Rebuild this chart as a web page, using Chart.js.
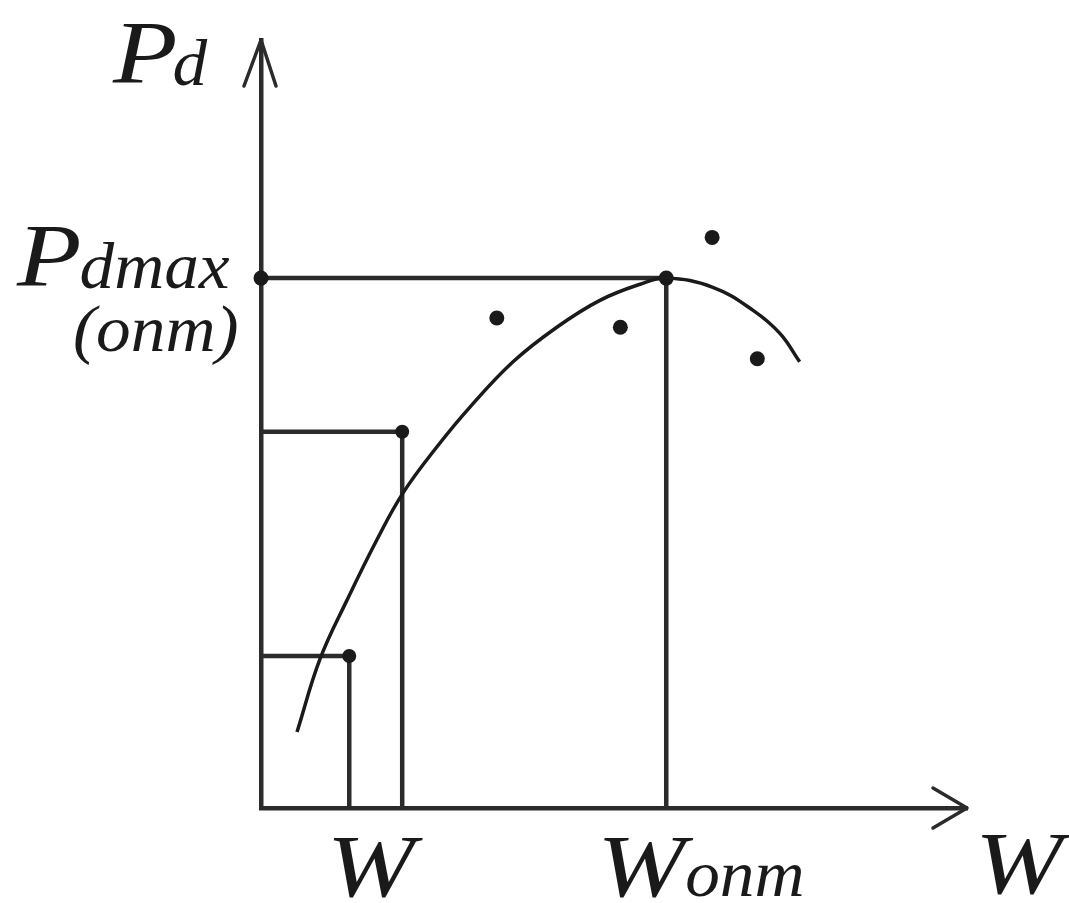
<!DOCTYPE html>
<html>
<head>
<meta charset="utf-8">
<script src="https://cdn.jsdelivr.net/npm/chart.js@4"></script>
<style>
  body { margin: 0; background: #fff; }
  canvas { display: block; }
</style>
</head>
<body>
<canvas id="chart" width="1069" height="903"></canvas>
<script>
// fitted curve Pd(W)
const curveW  = [5.1, 8.4, 12.2, 16.4, 20.1, 24.9, 29.6, 35.7, 41.9, 48.0, 53.7, 57.4, 64.0, 69.7, 73.5, 76.3];
const curvePd = [9.9, 19.5, 27.1, 34.9, 41.0, 47.0, 52.2, 58.1, 62.6, 66.1, 68.2, 69.0, 67.8, 64.8, 61.8, 58.1];

// measured points around the curve
const sampleW  = [33.4, 50.9, 63.9, 70.3];
const samplePd = [63.8, 62.6, 74.3, 58.5];

// two readings projected onto the axes
const readW  = [12.5, 20.0];
const readPd = [19.8, 49.0];

// optimum
const wOpt  = 57.4;
const pdMax = 69.0;

// axis texts
const yName     = ['P', 'd'];
const xName     = 'W';
const maxLabel  = ['P', 'dmax', '(onm)'];
const optLabel  = ['W', 'onm'];
const readLabel = 'W';

const INK = '#1a1a1a';
const LINE = '#2b2b2b';
const SERIF = '"Liberation Serif", "DejaVu Serif", serif';
const MAIN = {size: 88, stretch: 1.2};
const SUB = {size: 66, stretch: 1.05};

const toPts = (xs, ys) => xs.map((x, i) => ({x, y: ys[i]}));

function guide(w, pd, radii) {
    return {
        data: [{x: 0, y: pd}, {x: w, y: pd}, {x: w, y: 0}],
        showLine: true,
        borderColor: LINE,
        borderWidth: 4.5,
        pointRadius: radii,
        pointBackgroundColor: INK,
        pointBorderWidth: 0,
        clip: false,
    };
}

const datasets = [
    {
        data: toPts(curveW, curvePd),
        showLine: true,
        tension: 0.4,
        borderColor: INK,
        borderWidth: 3.5,
        pointRadius: 0,
        clip: false,
    },
    {
        data: toPts(sampleW, samplePd),
        pointRadius: 7.5,
        pointBackgroundColor: INK,
        pointBorderWidth: 0,
        clip: false,
    },
    guide(wOpt, pdMax, [7.5, 7.5, 0]),
    ...readW.map((w, i) => guide(w, readPd[i], [0, 7, 0])),
];

// italic text, widened a little; returns the drawn width
function fillWide(ctx, text, x, y, f) {
    ctx.font = `italic ${f.size}px ${SERIF}`;
    ctx.save();
    ctx.translate(x, y);
    ctx.scale(f.stretch, 1);
    ctx.fillText(text, 0, 0);
    ctx.restore();
    return ctx.measureText(text).width * f.stretch;
}

// main letter followed by a smaller subscript on nearly the same baseline
function drawSub(ctx, main, sub, x, y, gap, drop) {
    const w = fillWide(ctx, main, x, y, MAIN);
    if (sub) fillWide(ctx, sub, x + w + gap, y + drop, SUB);
}

const arrows = {
    id: 'arrows',
    afterDraw(chart) {
        const {ctx, chartArea: a} = chart;
        ctx.save();
        ctx.strokeStyle = LINE;
        ctx.lineWidth = 3.5;
        ctx.lineCap = 'round';
        ctx.lineJoin = 'round';
        ctx.beginPath();
        ctx.moveTo(a.left - 17, a.top + 46);
        ctx.lineTo(a.left, a.top);
        ctx.lineTo(a.left + 15, a.top + 46);
        ctx.moveTo(a.right - 34, a.bottom - 20);
        ctx.lineTo(a.right, a.bottom);
        ctx.lineTo(a.right - 34, a.bottom + 20);
        ctx.stroke();
        ctx.restore();
    }
};

const labels = {
    id: 'labels',
    afterDraw(chart) {
        const {ctx, chartArea: a, scales: {x, y}} = chart;
        ctx.save();
        ctx.fillStyle = INK;
        ctx.textAlign = 'left';
        ctx.textBaseline = 'alphabetic';

        // y axis name
        drawSub(ctx, yName[0], yName[1], a.left - 148, a.top + 42, -5, 3);

        // Pd max level
        const yMax = y.getPixelForValue(pdMax);
        drawSub(ctx, maxLabel[0], maxLabel[1], a.left - 244, yMax + 7, -2, 3);
        fillWide(ctx, maxLabel[2], a.left - 188, yMax + 73, SUB);

        // readings on the W axis
        const xRead = x.getPixelForValue((readW[0] + readW[1]) / 2);
        drawSub(ctx, readLabel, '', xRead - 49, a.bottom + 88, 0, 0);

        // optimum on the W axis
        drawSub(ctx, optLabel[0], optLabel[1], x.getPixelForValue(wOpt) - 69, a.bottom + 88, 0, 0);

        // x axis name
        drawSub(ctx, xName, '', a.right + 8, a.bottom + 85, 0, 0);
        ctx.restore();
    }
};

new Chart(document.getElementById('chart'), {
    type: 'scatter',
    data: {datasets},
    options: {
        responsive: false,
        animation: false,
        events: [],
        layout: {padding: {left: 261, top: 40, right: 102, bottom: 95}},
        plugins: {legend: {display: false}, tooltip: {enabled: false}},
        scales: {
            x: {
                min: 0, max: 100,
                grid: {display: false, drawTicks: false},
                ticks: {display: false},
                border: {display: true, color: LINE, width: 4.5},
            },
            y: {
                min: 0, max: 100,
                grid: {display: false, drawTicks: false},
                ticks: {display: false},
                border: {display: true, color: LINE, width: 4.5},
            },
        },
    },
    plugins: [arrows, labels],
});
</script>
</body>
</html>
